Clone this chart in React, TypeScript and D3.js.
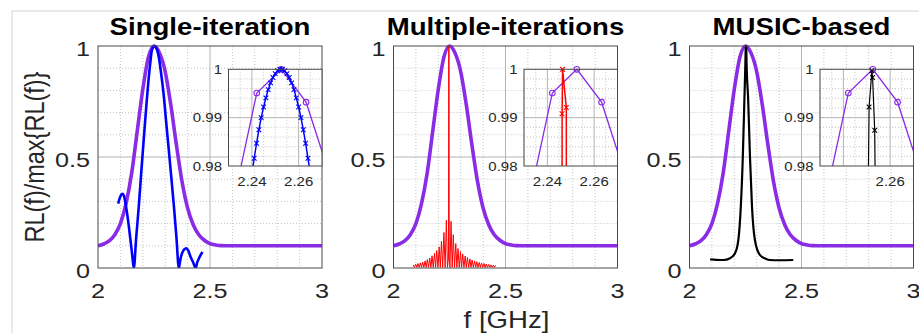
import React, { useEffect, useRef } from 'react';
import * as d3 from 'd3';

// ---- data ----
const titles = ['Single-iteration', 'Multiple-iterations', 'MUSIC-based'];
const xTicks = [2, 2.5, 3];
const yTicks = [0, 0.5, 1];
const yTickLabels = ['0', '0.5', '1'];
const insetXTicks = [2.24, 2.26];
const insetYTicks = [0.98, 0.99, 1];
const insetYTickLabels = ['0.98', '0.99', '1'];

// reference (purple) spectrum, smooth curve
const purpleF = [2.0, 2.025, 2.05, 2.075, 2.1, 2.125, 2.15, 2.175, 2.2, 2.225, 2.25, 2.275, 2.3, 2.325, 2.35, 2.375, 2.4, 2.425, 2.45, 2.475, 2.5, 2.525, 2.55, 2.6, 2.7, 2.8, 2.9, 3.0];
const purpleV = [0.1, 0.108, 0.122, 0.15, 0.2, 0.29, 0.425, 0.615, 0.805, 0.95, 1.0, 0.968, 0.885, 0.735, 0.555, 0.39, 0.27, 0.195, 0.15, 0.125, 0.11, 0.104, 0.101, 0.1, 0.1, 0.1, 0.1, 0.1];
// purple samples seen in the zoomed insets (circles)
const purpleSampleF = [2.2316, 2.2421, 2.2526, 2.2632, 2.2737];
const purpleSampleV = [0.9715, 0.9951, 1.0, 0.9932, 0.9775];

// single-iteration (blue)
const blueF = [2.09, 2.097, 2.104, 2.11, 2.116, 2.123, 2.13, 2.138, 2.145, 2.152, 2.16, 2.17, 2.182, 2.193, 2.204, 2.215, 2.227, 2.234,
  2.24, 2.241, 2.242, 2.243, 2.244, 2.245, 2.246, 2.247, 2.248, 2.249, 2.25, 2.251, 2.252, 2.253, 2.254, 2.255, 2.256, 2.257, 2.258, 2.259, 2.26, 2.261, 2.262, 2.263, 2.264, 2.265,
  2.272, 2.28, 2.294, 2.305, 2.316, 2.328, 2.339, 2.35, 2.361, 2.368, 2.376, 2.385, 2.394, 2.403, 2.413, 2.425, 2.436, 2.443, 2.451, 2.459, 2.466];
const blueV = [0.29, 0.315, 0.33, 0.334, 0.325, 0.29, 0.245, 0.185, 0.125, 0.065, 0.0, 0.13, 0.276, 0.43, 0.577, 0.72, 0.862, 0.93,
  0.9783, 0.9816, 0.9847, 0.9875, 0.99, 0.9922, 0.9941, 0.9958, 0.9972, 0.9983, 0.9991, 0.9997, 1.0, 1.0, 0.9997, 0.9991, 0.9983, 0.9972, 0.9958, 0.9941, 0.9922, 0.99, 0.9875, 0.9847, 0.9816, 0.9783,
  0.947, 0.89, 0.772, 0.65, 0.532, 0.4, 0.276, 0.14, 0.0, 0.04, 0.068, 0.084, 0.089, 0.078, 0.051, 0.025, 0.0, 0.025, 0.044, 0.06, 0.073];

// multiple-iterations (red): sidelobe peaks plus the narrow main spike
const redPeakF = [2.088, 2.099, 2.109, 2.12, 2.13, 2.141, 2.151, 2.162, 2.172, 2.183, 2.193, 2.204, 2.214, 2.225, 2.236,
  2.257, 2.267, 2.278, 2.288, 2.299, 2.309, 2.32, 2.33, 2.341, 2.351, 2.362, 2.372, 2.383, 2.393, 2.404, 2.414, 2.425, 2.435, 2.446, 2.456];
const redPeakV = [0.014, 0.017, 0.02, 0.023, 0.027, 0.032, 0.038, 0.045, 0.055, 0.066, 0.078, 0.095, 0.12, 0.16, 0.215,
  0.21, 0.15, 0.11, 0.088, 0.074, 0.063, 0.054, 0.047, 0.041, 0.036, 0.032, 0.028, 0.025, 0.022, 0.02, 0.018, 0.016, 0.014, 0.013, 0.012];
const redNullV = 0.003;
const redSpikeF = [2.241, 2.2458, 2.2463, 2.2465, 2.2481, 2.2486, 2.252];
const redSpikeV = [0.003, 0.05, 0.9908, 1.0, 0.9921, 0.05, 0.003];

// MUSIC-based (black)
const blackF = [2.092, 2.12, 2.151, 2.181, 2.203, 2.218, 2.229, 2.238, 2.245, 2.2497, 2.251, 2.2522, 2.2525, 2.2534, 2.2546, 2.262, 2.27, 2.279, 2.292, 2.314, 2.34, 2.359, 2.4, 2.463];
const blackV = [0.039, 0.037, 0.036, 0.044, 0.066, 0.126, 0.276, 0.5, 0.757, 0.93, 0.9922, 0.9997, 0.9983, 0.9874, 0.93, 0.757, 0.5, 0.276, 0.126, 0.059, 0.042, 0.036, 0.035, 0.036];

const PURPLE = '#8a2be6';

type Pt = [number, number];
const zip = (f: number[], v: number[]): Pt[] => f.map((d, i) => [d, v[i]] as Pt);

const redPoints = (): Pt[] => {
  const pts: Pt[] = [];
  redPeakF.forEach((f, i) => {
    pts.push([f, redPeakV[i]]);
    const n = redPeakF[i + 1];
    if (n !== undefined && n - f < 0.015) pts.push([(f + n) / 2, redNullV]);
  });
  return pts.concat(zip(redSpikeF, redSpikeV)).sort((a, b) => a[0] - b[0]);
};

const App: React.FC = () => {
  const svgRef = useRef<SVGSVGElement | null>(null);

  useEffect(() => {
    const svg = d3.select(svgRef.current);
    svg.selectAll('*').remove();

    const W = 919;
    const axLeft = [98, 393.5, 689.5];
    const axW = 224;
    const axTop = 46;
    const axBottom = 268;
    const insetOff = 130.5;
    const insetTop = 69.3;
    const insetBottom = 166;
    const sx = 1.2; // source image is stretched horizontally
    const font = '"Liberation Sans", Arial, Helvetica, sans-serif';

    const text = (g: any, x: number, y: number, s: string, size: number, anchor: string, weight = 'normal', fill = '#262626') =>
      g.append('text')
        .attr('transform', `translate(${x},${y}) scale(${sx},1)`)
        .attr('text-anchor', anchor)
        .attr('font-family', font)
        .attr('font-size', size)
        .attr('font-weight', weight)
        .attr('fill', fill)
        .text(s);

    // outer frame
    svg.append('line').attr('x1', 12).attr('y1', 11).attr('x2', W).attr('y2', 11).attr('stroke', '#d4d4d4');
    svg.append('line').attr('x1', 12).attr('y1', 11).attr('x2', 12).attr('y2', 333).attr('stroke', '#d4d4d4');

    const defs = svg.append('defs');

    const xMark = 'M-2.3,-2.3L2.3,2.3M-2.3,2.3L2.3,-2.3';

    const series = [
      { pts: zip(blueF, blueV), color: '#0000ff', width: 2.6, curve: d3.curveMonotoneX, inW: 1.5 },
      { pts: redPoints(), color: '#ff0000', width: 1, curve: d3.curveLinear, inW: 1.5 },
      { pts: zip(blackF, blackV), color: '#000000', width: 2.2, curve: d3.curveMonotoneX, inW: 1.2 },
    ];

    titles.forEach((title, i) => {
      const x0 = axLeft[i];
      const x = d3.scaleLinear().domain([2, 3]).range([x0, x0 + axW]);
      const y = d3.scaleLinear().domain([0, 1]).range([axBottom, axTop]);
      const g = svg.append('g');

      // minor dotted grid
      x.ticks(10).filter((t) => !xTicks.some((m) => Math.abs(m - t) < 1e-6)).forEach((t) => {
        g.append('line').attr('x1', x(t)).attr('x2', x(t)).attr('y1', axTop).attr('y2', axBottom)
          .attr('stroke', '#c4c4c4').attr('stroke-dasharray', '1,2');
      });
      y.ticks(10).filter((t) => !yTicks.some((m) => Math.abs(m - t) < 1e-6)).forEach((t) => {
        g.append('line').attr('x1', x0).attr('x2', x0 + axW).attr('y1', y(t)).attr('y2', y(t))
          .attr('stroke', '#c4c4c4').attr('stroke-dasharray', '1,2');
      });
      // major grid
      g.append('line').attr('x1', x(2.5)).attr('x2', x(2.5)).attr('y1', axTop).attr('y2', axBottom).attr('stroke', '#b4b4b4');
      g.append('line').attr('x1', x0).attr('x2', x0 + axW).attr('y1', y(0.5)).attr('y2', y(0.5)).attr('stroke', '#b4b4b4');

      defs.append('clipPath').attr('id', `clip-main-${i}`)
        .append('rect').attr('x', x0).attr('y', axTop - 3).attr('width', axW).attr('height', axBottom - axTop + 3);

      const line = d3.line<Pt>().x((d) => x(d[0])).y((d) => y(d[1]));

      const gl = g.append('g').attr('clip-path', `url(#clip-main-${i})`);
      gl.append('path')
        .datum(zip(purpleF, purpleV))
        .attr('fill', 'none').attr('stroke', PURPLE).attr('stroke-width', 3.6)
        .attr('stroke-linejoin', 'round')
        .attr('d', line.curve(d3.curveMonotoneX) as any);

      const s = series[i];
      gl.append('path')
        .datum(s.pts)
        .attr('fill', 'none').attr('stroke', s.color).attr('stroke-width', s.width)
        .attr('stroke-linejoin', 'round')
        .attr('d', d3.line<Pt>().x((d) => x(d[0])).y((d) => y(d[1])).curve(s.curve) as any);

      // axes box
      g.append('rect').attr('x', x0).attr('y', axTop).attr('width', axW).attr('height', axBottom - axTop)
        .attr('fill', 'none').attr('stroke', '#4a4a4a').attr('stroke-width', 1);

      // tick labels
      xTicks.forEach((t) => text(g, x(t), 298, String(t), 21, 'middle'));
      yTicks.forEach((t, k) => text(g, x0 - 8, y(t) + 10, yTickLabels[k], 21, 'end'));

      // title
      text(g, x0 + axW / 2, 35, title, 23, 'middle', 'bold', '#000');

      // ---- inset ----
      const ix0 = x0 + insetOff;
      const ix1 = x0 + axW;
      const xi = d3.scaleLinear().domain([2.23, 2.27]).range([ix0, ix1]);
      const yi = d3.scaleLinear().domain([0.98, 1]).range([insetBottom, insetTop]);
      const gi = g.append('g');
      gi.append('rect').attr('x', ix0).attr('y', insetTop).attr('width', ix1 - ix0).attr('height', insetBottom - insetTop)
        .attr('fill', '#fff');

      xi.ticks(8).filter((t) => !insetXTicks.some((m) => Math.abs(m - t) < 1e-6)).forEach((t) => {
        gi.append('line').attr('x1', xi(t)).attr('x2', xi(t)).attr('y1', insetTop).attr('y2', insetBottom)
          .attr('stroke', '#c4c4c4').attr('stroke-dasharray', '1,2');
      });
      yi.ticks(10).filter((t) => !insetYTicks.some((m) => Math.abs(m - t) < 1e-6)).forEach((t) => {
        gi.append('line').attr('x1', ix0).attr('x2', ix1).attr('y1', yi(t)).attr('y2', yi(t))
          .attr('stroke', '#c4c4c4').attr('stroke-dasharray', '1,2');
      });
      insetXTicks.forEach((t) => {
        gi.append('line').attr('x1', xi(t)).attr('x2', xi(t)).attr('y1', insetTop).attr('y2', insetBottom).attr('stroke', '#b4b4b4');
      });
      gi.append('line').attr('x1', ix0).attr('x2', ix1).attr('y1', yi(0.99)).attr('y2', yi(0.99)).attr('stroke', '#b4b4b4');

      defs.append('clipPath').attr('id', `clip-inset-${i}`)
        .append('rect').attr('x', ix0).attr('y', insetTop - 4).attr('width', ix1 - ix0).attr('height', insetBottom - insetTop + 4);

      const gil = gi.append('g').attr('clip-path', `url(#clip-inset-${i})`);
      const lineI = d3.line<Pt>().x((d) => xi(d[0])).y((d) => yi(d[1]));
      const purpleSamples = zip(purpleSampleF, purpleSampleV);
      gil.append('path').datum(purpleSamples)
        .attr('fill', 'none').attr('stroke', PURPLE).attr('stroke-width', 1.3).attr('d', lineI as any);
      gil.selectAll('circle.p').data(purpleSamples.filter((d) => d[1] >= 0.98)).enter()
        .append('circle').attr('cx', (d) => xi(d[0])).attr('cy', (d) => yi(d[1])).attr('r', 2.8)
        .attr('fill', 'none').attr('stroke', PURPLE).attr('stroke-width', 1.1);

      gil.append('path').datum(s.pts)
        .attr('fill', 'none').attr('stroke', s.color).attr('stroke-width', s.inW).attr('d', lineI as any);
      gil.selectAll('path.m').data(s.pts.filter((d) => d[1] >= 0.98 && d[0] >= 2.23 && d[0] <= 2.27)).enter()
        .append('path').attr('class', 'm')
        .attr('transform', (d) => `translate(${xi(d[0])},${yi(d[1])})`)
        .attr('d', xMark).attr('fill', 'none').attr('stroke', s.color).attr('stroke-width', 1.1);

      gi.append('rect').attr('x', ix0).attr('y', insetTop).attr('width', ix1 - ix0).attr('height', insetBottom - insetTop)
        .attr('fill', 'none').attr('stroke', '#4a4a4a').attr('stroke-width', 1);

      insetXTicks.forEach((t) => {
        if (i === 2 && t === 2.24) return; // label hidden in the source
        text(gi, xi(t), insetBottom + 20, String(t), 12.5, 'middle');
      });
      insetYTicks.forEach((t, k) => text(gi, ix0 - 6.5, yi(t) + 4.5, insetYTickLabels[k], 12.5, 'end'));
    });

    // axis labels
    text(svg, 506.5, 328, 'f [GHz]', 23, 'middle');
    svg.append('text')
      .attr('transform', `translate(44,157) scale(${sx},1) rotate(-90)`)
      .attr('text-anchor', 'middle')
      .attr('font-family', font)
      .attr('font-size', 23.5)
      .attr('fill', '#262626')
      .text('RL(f)/max{RL(f)}');
  }, []);

  return (
    <svg ref={svgRef} width={919} height={333}
      style={{ position: 'absolute', left: 0, top: 0, background: '#fff' }}></svg>
  );
};

export default App;
